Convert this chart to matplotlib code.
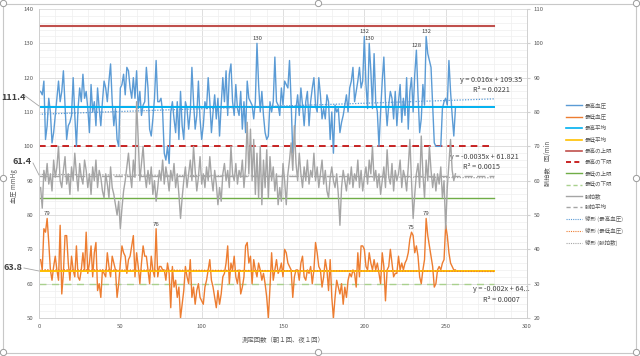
import numpy as np
import matplotlib.pyplot as plt
from matplotlib.lines import Line2D
from matplotlib.patches import Rectangle

plt.rcParams['font.family'] = ['Noto Sans CJK JP', 'DejaVu Sans']

# 最高血圧 (mmHg), one value per measurement
sys_bp = [
    116, 115, 119, 102, 106, 114, 110, 101, 104, 109,
    114, 119, 113, 116, 122, 112, 102, 106, 107, 109,
    120, 109, 100, 111, 117, 113, 121, 114, 116, 111,
    104, 118, 110, 113, 106, 117, 111, 106, 113, 119,
    117, 113, 119, 124, 113, 106, 111, 102, 100, 117,
    118, 121, 115, 123, 122, 117, 114, 120, 114, 122,
    111, 116, 109, 112, 113, 123, 117, 105, 103, 108,
    114, 125, 113, 113, 114, 110, 98, 96, 100, 95,
    110, 113, 108, 104, 113, 102, 116, 106, 102, 113,
    111, 105, 110, 123, 113, 105, 109, 119, 108, 102,
    106, 113, 111, 120, 113, 104, 110, 115, 108, 114,
    103, 112, 120, 113, 122, 109, 121, 124, 113, 109,
    118, 111, 109, 116, 105, 113, 104, 119, 114, 113,
    112, 108, 113, 130, 118, 110, 116, 109, 104, 102,
    103, 113, 110, 113, 126, 113, 112, 109, 117, 112,
    119, 118, 117, 125, 113, 98, 102, 111, 115, 109,
    117, 112, 106, 113, 116, 106, 113, 117, 120, 112,
    110, 120, 115, 108, 111, 108, 115, 113, 102, 110,
    98, 112, 110, 111, 104, 107, 109, 112, 115, 110,
    117, 119, 123, 113, 116, 119, 123, 117, 119, 132,
    118, 111, 130, 122, 111, 127, 113, 110, 100, 110,
    119, 126, 113, 106, 112, 116, 114, 108, 116, 106,
    113, 118, 107, 114, 109, 120, 105, 116, 120, 110,
    121, 128, 115, 104, 108, 118, 112, 132, 127, 125,
    123, 112, 101, 100, 100, 100, 100, 111, 113, 114,
    112, 125, 116, 109, 103, 111,
]

# 最低血圧 (mmHg)
dia_bp = [
    67, 64, 76, 75, 79, 72, 64, 61, 65, 68,
    64, 61, 77, 57, 63, 74, 74, 66, 61, 68,
    64, 62, 71, 62, 61, 64, 69, 64, 75, 63,
    66, 71, 62, 69, 72, 58, 60, 56, 64, 63,
    62, 69, 65, 62, 68, 66, 64, 56, 60, 66,
    71, 69, 68, 63, 67, 68, 71, 74, 62, 69,
    65, 60, 66, 71, 68, 68, 64, 60, 68, 64,
    62, 76, 62, 65, 65, 64, 64, 61, 66, 63,
    53, 65, 59, 61, 56, 59, 50, 54, 58, 65,
    62, 60, 67, 56, 59, 54, 58, 60, 56, 55,
    54, 59, 61, 64, 67, 61, 59, 56, 53, 58,
    54, 57, 62, 63, 66, 71, 60, 66, 64, 68,
    62, 60, 64, 57, 59, 62, 71, 72, 66, 68,
    60, 67, 64, 62, 66, 64, 61, 63, 60, 56,
    50, 59, 69, 61, 64, 67, 63, 64, 66, 62,
    70, 69, 66, 65, 64, 56, 62, 64, 64, 61,
    66, 68, 62, 61, 64, 63, 65, 60, 64, 72,
    69, 65, 64, 59, 62, 67, 64, 58, 67, 56,
    50, 56, 61, 59, 57, 60, 54, 59, 56, 61,
    63, 62, 64, 63, 59, 69, 62, 71, 71, 70,
    65, 64, 69, 66, 64, 67, 64, 66, 63, 60,
    69, 65, 55, 64, 65, 70, 66, 62, 63, 63,
    68, 64, 66, 64, 66, 67, 69, 73, 75, 74,
    69, 71, 68, 62, 60, 64, 67, 79, 74, 71,
    68, 65, 59, 60, 64, 65, 64, 66, 67, 77,
    74, 69, 66, 65, 64, 64,
]

# 脈拍数 (回/min)
pulse = [
    58, 52, 63, 60, 65, 59, 62, 57, 66, 61,
    64, 70, 60, 58, 63, 67, 59, 62, 56, 64,
    60, 68, 62, 57, 65, 61, 59, 66, 63, 58,
    62, 56, 64, 60, 66, 58, 63, 61, 57, 55,
    62, 59, 55, 64, 58, 56, 53, 50, 54, 46,
    52, 57, 60, 64, 68, 62, 58, 66, 61, 83,
    72, 60, 65, 70, 62, 58, 63, 59, 64, 56,
    60, 54, 58, 63, 60, 66, 59, 64, 61, 57,
    63, 60, 65, 58, 62, 56, 49, 55, 60, 64,
    58, 62, 66, 60, 70, 63, 57, 61, 67, 59,
    62, 58, 64, 60, 67, 61, 57, 63, 59, 53,
    58, 54, 62, 65, 60, 63, 58, 70, 62, 60,
    65, 59, 63, 61, 66, 58, 64, 77, 62, 75,
    60, 72, 56, 68, 55, 70, 53, 66, 58, 69,
    55, 67, 60, 64, 57, 62, 53, 58, 54, 65,
    60, 53, 62, 66, 71, 63, 76, 65, 60, 68,
    62, 58, 64, 60, 66, 59, 63, 61, 68, 60,
    64, 58, 62, 66, 59, 63, 57, 55, 61, 64,
    60, 58, 62, 56, 47, 58, 63, 60, 57, 62,
    59, 64, 58, 62, 60, 66, 58, 63, 57, 61,
    64, 59, 66, 62, 70, 60, 63, 58, 62, 56,
    60, 64, 58, 69, 61, 59, 65, 57, 63, 60,
    62, 66, 58, 63, 61, 57, 64, 72, 60, 49,
    56, 62, 65, 58, 73, 62, 55, 66, 60, 70,
    63, 58, 62, 57, 62, 59, 64, 55, 60, 46,
    58, 65, 72, 63, 60, 62,
]

sys_avg = 111.4
dia_avg = 63.8
pulse_avg = 61.4
sys_upper = 135
sys_lower = 100
dia_upper = 85
dia_lower = 60
ref_range = [0, 280]

# Excel linear trendlines (slope, intercept, R^2)
trend_sys = (0.016, 109.35, 0.0221)
trend_dia = (-0.002, 64.1, 0.0007)
trend_pulse = (-0.0035, 61.821, 0.0015)

sys_labelled = [134, 200, 203, 232, 238]
dia_labelled = [5, 72, 229, 238]

legend_labels = ['最高血圧', '最低血圧', '最高平均', '最低平均', '最高の上限', '最高の下限',
                 '最低の上限', '最低の下限', '脈拍数', '脈拍平均',
                 '線形 (最高血圧)', '線形 (最低血圧)', '線形 (脈拍数)']

c_sys = '#5B9BD5'
c_dia = '#ED7D31'
c_pulse = '#A5A5A5'
txt = '#595959'

W, H = 640, 356
fig = plt.figure(figsize=(6.4, 3.56), dpi=100)
ax = fig.add_axes([39 / W, 1 - 318 / H, (527 - 39) / W, (318 - 9) / H])
ax2 = ax.twinx()

x = np.arange(1, len(sys_bp) + 1)
xr = np.array(ref_range)

ax.set_xlim(0, 300)
ax.set_ylim(50, 140)
ax2.set_ylim(20, 110)
ax.set_xticks(np.arange(0, 301, 50))
ax.set_xticks(np.arange(0, 301, 10), minor=True)
ax.set_yticks(np.arange(50, 141, 10))
ax.set_yticks(np.arange(50, 141, 2), minor=True)
ax2.set_yticks(np.arange(20, 111, 10))
ax.grid(which='major', color='#D9D9D9', lw=0.6)
ax.grid(which='minor', color='#EFEFEF', lw=0.5)
ax.set_axisbelow(True)
for a in (ax, ax2):
    for s in a.spines.values():
        s.set_color('#D0D0D0')
        s.set_linewidth(0.6)
    a.spines['top'].set_visible(False)
ax.tick_params(which='both', length=0, labelsize=4.3, labelcolor=txt, pad=4)
ax2.tick_params(which='both', length=2, color='#D0D0D0', labelsize=4.3, labelcolor=txt, pad=3)

# reference / average lines
ax.plot(xr, [sys_upper] * 2, color='#C0504D', lw=1.5)
ax.plot(xr, [sys_lower] * 2, color='#C00000', lw=1.2, ls=(0, (4, 3)))
ax.plot(xr, [dia_upper] * 2, color='#70AD47', lw=1.0)
ax.plot(xr, [dia_lower] * 2, color='#A9D18E', lw=1.0, ls=(0, (5, 4)))

ax.plot(x, sys_bp, color=c_sys, lw=1.0)
ax.plot(x, dia_bp, color=c_dia, lw=1.0)
ax.plot(xr, [sys_avg] * 2, color='#00B0F0', lw=1.4)
ax.plot(xr, [dia_avg] * 2, color='#FFC000', lw=1.4)
ax.plot(xr, trend_sys[0] * xr + trend_sys[1], color=c_sys, lw=0.9, ls=(0, (1, 1.2)))
ax.plot(xr, trend_dia[0] * xr + trend_dia[1], color=c_dia, lw=0.9, ls=(0, (1, 1.2)))

ax2.plot(x, pulse, color=c_pulse, lw=1.0)
ax2.plot(xr, [pulse_avg] * 2, color='#A5A5A5', lw=1.0, ls=(0, (6, 3)))
ax2.plot(xr, trend_pulse[0] * xr + trend_pulse[1], color='#A5A5A5', lw=0.9, ls=(0, (1, 1.2)))

# data labels on the peaks
for xi in sys_labelled:
    ax.annotate(str(sys_bp[xi - 1]), (xi, sys_bp[xi - 1]), xytext=(0, 1.5),
                textcoords='offset points', ha='center', va='bottom', fontsize=4.3, color='#404040')
for xi in dia_labelled:
    ax.annotate(str(dia_bp[xi - 1]), (xi, dia_bp[xi - 1]), xytext=(0, 1.5),
                textcoords='offset points', ha='center', va='bottom', fontsize=4.3, color='#404040')

# trendline equations
def eq_text(t):
    return f'y = {t[0]:g}x + {t[1]:g}'.replace('+ -', '- '), f'R² = {t[2]:.4f}'

e1, r1 = eq_text(trend_sys)
e2, r2 = eq_text(trend_pulse)
e3, r3 = eq_text(trend_dia)
kw = dict(ha='center', va='center', fontsize=5.2, color='#404040', clip_on=False)
ax.text(278, 119.3, e1, **kw)
ax.text(278, 116.4, r1, **kw)
ax.text(274, 96.9, e2, **kw)
ax.text(272, 93.9, r2, **kw)
ax.text(284, 58.4, e3, **kw)
ax.text(284, 55.2, r3, **kw)

# average value callouts left of the axis
def callout(val, tx, ty, lx, ly):
    fig.text(tx / W, 1 - ty / H, f'{val:g}', ha='center', va='center', fontsize=6.5,
             fontweight='bold', color='#404040')
    fig.add_artist(Line2D([lx[0] / W, lx[1] / W], [1 - ly[0] / H, 1 - ly[1] / H],
                          color='#A6A6A6', lw=0.6, transform=fig.transFigure))

callout(sys_avg, 13, 97, (24, 39), (95, 106))
callout(pulse_avg, 22, 161, (33, 39), (163, 175))
callout(dia_avg, 13, 268, (24, 39), (268, 271))

fig.text(14 / W, 1 - 186 / H, '血圧 mmHg', rotation=90, ha='center', va='center', fontsize=4.5, color=txt)
fig.text(548 / W, 1 - 163 / H, '脈拍数　回/min', rotation=90, ha='center', va='center', fontsize=4.5, color=txt)
fig.text(283 / W, 1 - 340 / H, '測定回数（朝１回、夜１回）', ha='center', va='center', fontsize=4.6, color=txt)

handles = [
    Line2D([], [], color=c_sys, lw=1.0),
    Line2D([], [], color=c_dia, lw=1.0),
    Line2D([], [], color='#00B0F0', lw=1.2),
    Line2D([], [], color='#FFC000', lw=1.2),
    Line2D([], [], color='#C0504D', lw=1.2),
    Line2D([], [], color='#C00000', lw=1.2, ls=(0, (3, 2))),
    Line2D([], [], color='#70AD47', lw=1.0),
    Line2D([], [], color='#A9D18E', lw=1.0, ls=(0, (3, 2))),
    Line2D([], [], color=c_pulse, lw=1.0),
    Line2D([], [], color=c_pulse, lw=1.0, ls=(0, (3, 2))),
    Line2D([], [], color=c_sys, lw=0.8, ls=(0, (1, 1))),
    Line2D([], [], color=c_dia, lw=0.8, ls=(0, (1, 1))),
    Line2D([], [], color=c_pulse, lw=0.8, ls=(0, (1, 1))),
]
fig.legend(handles, legend_labels, loc='upper left', bbox_to_anchor=(564 / W, 1 - 100 / H),
           frameon=False, fontsize=4.0, handlelength=2.9, handletextpad=0.5,
           labelspacing=1.05, borderaxespad=0, labelcolor=txt)

# chart frame with selection handles
fig.add_artist(Rectangle((3 / W, 3 / H), 633 / W, 349 / H, fill=False, ec='#C8C8C8',
                         lw=0.8, transform=fig.transFigure))
for hx, hy in [(3, 3), (318, 3), (636, 3), (3, 178), (636, 178), (3, 352), (318, 352), (636, 352)]:
    fig.add_artist(Line2D([hx / W], [1 - hy / H], marker='o', ms=4.5, mfc='white', mec='#9A9A9A',
                          mew=0.7, transform=fig.transFigure))

fig.savefig('out.png', dpi=100)
